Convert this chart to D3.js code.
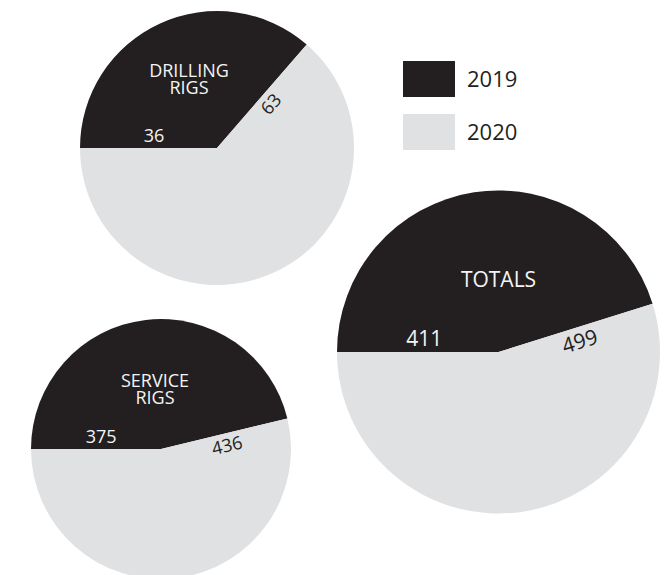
<!DOCTYPE html>
<html>
<head>
<meta charset="utf-8">
<script src="https://cdn.jsdelivr.net/npm/d3@7"></script>
<style>
  html, body { margin: 0; padding: 0; background: #ffffff; }
  svg { display: block; font-family: "Open Sans", "Noto Sans", sans-serif; }
</style>
</head>
<body>
<svg id="chart" width="671" height="575"></svg>
<script>
// Rig counts by group, 2019 vs 2020
const groups = ["DRILLING RIGS", "SERVICE RIGS", "TOTALS"];
const years = ["2019", "2020"];
const counts2019 = [36, 375, 411];
const counts2020 = [63, 436, 499];

// Layout of each pie: centre, radius, text size and title offset
const layout = [
  { cx: 217, cy: 148, r: 137, font: 18, titleLines: ["DRILLING", "RIGS"], titleDx: -28, titleDy: -71 },
  { cx: 161, cy: 449, r: 130, font: 18, titleLines: ["SERVICE", "RIGS"], titleDx: -6, titleDy: -62 },
  { cx: 498.5, cy: 352, r: 161.5, font: 21, titleLines: ["TOTALS"], titleDx: 0, titleDy: -65 }
];

const dark = "#231f20";
const light = "#e0e1e3";
const color = d3.scaleOrdinal().domain(years).range([dark, light]);

const svg = d3.select("#chart");

const pie = d3.pie()
  .sort(null)
  .value(d => d.value)
  .startAngle(-Math.PI / 2)
  .endAngle(3 * Math.PI / 2);

groups.forEach((name, i) => {
  const L = layout[i];
  const data = [
    { year: years[0], value: counts2019[i] },
    { year: years[1], value: counts2020[i] }
  ];
  const arcs = pie(data);
  const arc = d3.arc().innerRadius(0).outerRadius(L.r);

  const g = svg.append("g").attr("transform", `translate(${L.cx},${L.cy})`);

  g.selectAll("path.slice")
    .data(arcs)
    .join("path")
    .attr("class", "slice")
    .attr("d", arc)
    .attr("fill", d => color(d.data.year));

  // group title inside the 2019 slice
  const title = g.append("text")
    .attr("text-anchor", "middle")
    .attr("fill", "#f4f4f4")
    .attr("font-size", L.font)
    .attr("transform", `translate(${L.titleDx},${L.titleDy})`);
  title.selectAll("tspan")
    .data(L.titleLines)
    .join("tspan")
    .attr("x", 0)
    .attr("y", (d, k) => k * L.font * 0.92)
    .text(d => d);

  // 2019 value, horizontal, just above the slice's starting edge
  g.append("text")
    .attr("text-anchor", "middle")
    .attr("fill", "#f4f4f4")
    .attr("font-size", L.font)
    .attr("x", -0.46 * L.r)
    .attr("y", -6)
    .text(arcs[0].data.value);

  // 2020 value, aligned with the boundary between the slices
  const boundary = arcs[0].endAngle * 180 / Math.PI;
  g.append("text")
    .attr("text-anchor", "middle")
    .attr("fill", dark)
    .attr("font-size", L.font)
    .attr("transform", `rotate(${boundary - 90})`)
    .attr("x", 0.5 * L.r)
    .attr("y", L.font * 1.02)
    .text(arcs[1].data.value);
});

// Legend
const legend = svg.append("g").attr("transform", "translate(403,61)");
const legendRows = legend.selectAll("g")
  .data(years)
  .join("g")
  .attr("transform", (d, k) => `translate(0,${k * 53})`);
legendRows.append("rect")
  .attr("width", 52)
  .attr("height", 36)
  .attr("fill", d => color(d));
legendRows.append("text")
  .attr("x", 64)
  .attr("y", 26)
  .attr("font-size", 22)
  .attr("fill", dark)
  .text(d => d);
</script>
</body>
</html>
